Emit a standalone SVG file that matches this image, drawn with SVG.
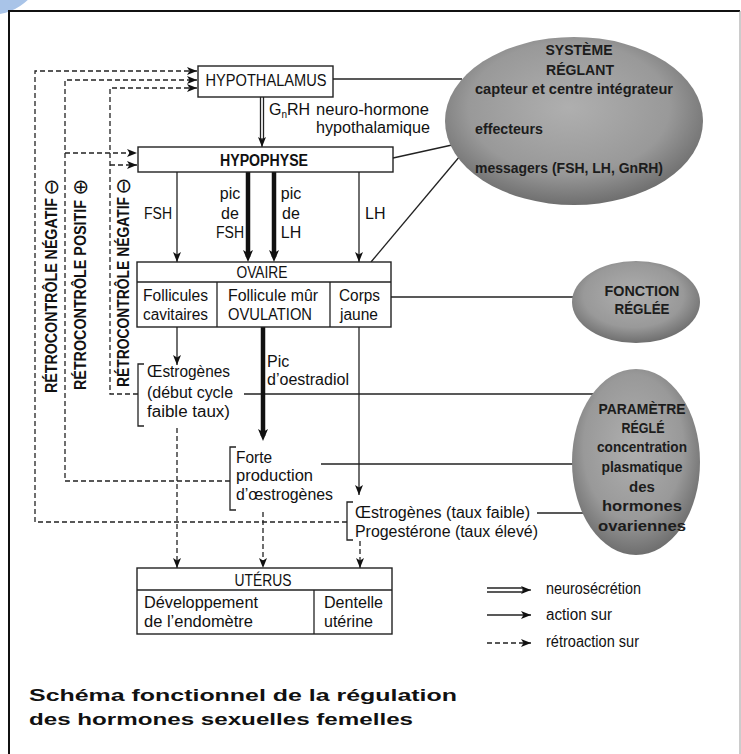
<svg xmlns="http://www.w3.org/2000/svg" width="741" height="754" viewBox="0 0 741 754">
<defs>
<style>
.t{font-family:"Liberation Sans",Arial,sans-serif;font-size:16px;fill:#111}
.b{font-weight:bold}
.e{font-family:"Liberation Sans",Arial,sans-serif;font-size:15px;font-weight:bold;fill:#1c1c1c}
.sym{font-family:"DejaVu Sans",sans-serif;font-size:20px;fill:#111}
.box{fill:#fff;stroke:#222;stroke-width:1.4}
.ln{fill:none;stroke:#222;stroke-width:1.3}
.thk{fill:none;stroke:#111;stroke-width:4.5}
.dsh{fill:none;stroke:#222;stroke-width:1.3;stroke-dasharray:5 3}
.ell{fill:url(#eg);stroke:none}
</style>
<radialGradient id="eg" cx="48%" cy="42%" r="60%">
<stop offset="0" stop-color="#afafaf"/>
<stop offset="0.65" stop-color="#999"/>
<stop offset="1" stop-color="#6a6a6a"/>
</radialGradient>
<marker id="ah" viewBox="0 0 10 8" refX="10" refY="4" markerWidth="10" markerHeight="8" markerUnits="userSpaceOnUse" orient="auto">
<path d="M0,0 L10,4 L0,8 L2.5,4 z" fill="#111"/>
</marker>
<marker id="ahk" viewBox="0 0 12 10" refX="7" refY="5" markerWidth="12" markerHeight="10" markerUnits="userSpaceOnUse" orient="auto">
<path d="M0,0 L12,5 L0,10 L3,5 z" fill="#111"/>
</marker>
</defs>
<rect width="741" height="754" fill="#fff"/>
<circle cx="-10" cy="-40" r="55" fill="#a9c4e8"/>
<path d="M9,754 V11 H740" fill="none" stroke="#111" stroke-width="2"/>
<line x1="740" y1="11" x2="740" y2="754" stroke="#999" stroke-width="1"/>

<g id="connectors">
<line class="ln" x1="333" y1="79" x2="462" y2="79"/>
<line class="ln" x1="393" y1="158" x2="452" y2="145"/>
<line class="ln" x1="371" y1="262" x2="460" y2="156"/>
<line class="ln" x1="391" y1="297" x2="575" y2="297"/>
<line class="ln" x1="244" y1="394" x2="596" y2="394"/>
<line class="ln" x1="321" y1="464" x2="575" y2="464"/>
<line class="ln" x1="537" y1="513" x2="584" y2="513"/>
<line class="ln" x1="260.5" y1="97" x2="260.5" y2="139"/>
<line class="ln" x1="263.5" y1="97" x2="263.5" y2="139"/>
<line class="ln" x1="262" y1="138" x2="262" y2="147" marker-end="url(#ah)"/>
<line class="ln" x1="177" y1="172" x2="177" y2="262" marker-end="url(#ah)"/>
<line class="thk" x1="248" y1="172" x2="248" y2="257" marker-end="url(#ahk)"/>
<line class="thk" x1="274" y1="172" x2="274" y2="257" marker-end="url(#ahk)"/>
<line class="ln" x1="359" y1="172" x2="359" y2="262" marker-end="url(#ah)"/>
<line class="ln" x1="177" y1="327" x2="177" y2="365" marker-end="url(#ah)"/>
<line class="thk" x1="263" y1="327" x2="263" y2="436" marker-end="url(#ahk)"/>
<line class="ln" x1="359" y1="327" x2="359" y2="495" marker-end="url(#ah)"/>
<path class="dsh" d="M347,522 H35 V71 H197" marker-end="url(#ah)"/>
<path class="dsh" d="M230,481 H65 V80 H197" marker-end="url(#ah)"/>
<path class="dsh" d="M65,153 H137" marker-end="url(#ah)"/>
<path class="dsh" d="M138,394 H110 V88 H197" marker-end="url(#ah)"/>
<path class="dsh" d="M110,165 H137" marker-end="url(#ah)"/>
<line class="dsh" x1="177" y1="428" x2="177" y2="568" marker-end="url(#ah)"/>
<line class="dsh" x1="263" y1="512" x2="263" y2="568" marker-end="url(#ah)"/>
<line class="dsh" x1="360" y1="541" x2="360" y2="568" marker-end="url(#ah)"/>
</g>

<g id="hypothalamus">
<rect class="box" x="198" y="66" width="135" height="31"/>
<text class="t" x="266" y="86" text-anchor="middle" textLength="121" lengthAdjust="spacingAndGlyphs">HYPOTHALAMUS</text>
</g>
<g id="gnrh-label">
<text class="t" x="269" y="115">G<tspan font-size="10" dy="3">n</tspan><tspan dy="-3">RH</tspan></text>
<text class="t" x="316" y="115" textLength="113" lengthAdjust="spacingAndGlyphs">neuro-hormone</text>
<text class="t" x="316" y="133" textLength="114" lengthAdjust="spacingAndGlyphs">hypothalamique</text>
</g>
<g id="hypophyse">
<rect class="box" x="138" y="147" width="255" height="25"/>
<text class="t b" x="264" y="166" text-anchor="middle" textLength="88" lengthAdjust="spacingAndGlyphs">HYPOPHYSE</text>
</g>
<g id="hormone-labels">
<text class="t" x="144" y="219" textLength="28" lengthAdjust="spacingAndGlyphs">FSH</text>
<text class="t" x="230" y="199" text-anchor="middle">pic</text>
<text class="t" x="230" y="219" text-anchor="middle">de</text>
<text class="t" x="230" y="238" text-anchor="middle" textLength="28" lengthAdjust="spacingAndGlyphs">FSH</text>
<text class="t" x="291" y="199" text-anchor="middle">pic</text>
<text class="t" x="291" y="219" text-anchor="middle">de</text>
<text class="t" x="291" y="238" text-anchor="middle">LH</text>
<text class="t" x="365" y="219">LH</text>
</g>
<g id="ovaire">
<rect class="box" x="137" y="262" width="254" height="65"/>
<line class="ln" x1="137" y1="282" x2="391" y2="282"/>
<line class="ln" x1="217" y1="282" x2="217" y2="327"/>
<line class="ln" x1="330" y1="282" x2="330" y2="327"/>
<text class="t" x="262" y="278" text-anchor="middle" textLength="51" lengthAdjust="spacingAndGlyphs">OVAIRE</text>
<text class="t" x="143" y="301" textLength="65" lengthAdjust="spacingAndGlyphs">Follicules</text>
<text class="t" x="143" y="320" textLength="65" lengthAdjust="spacingAndGlyphs">cavitaires</text>
<text class="t" x="228" y="301" textLength="90" lengthAdjust="spacingAndGlyphs">Follicule mûr</text>
<text class="t" x="228" y="320" textLength="84" lengthAdjust="spacingAndGlyphs">OVULATION</text>
<text class="t" x="339" y="301" textLength="41" lengthAdjust="spacingAndGlyphs">Corps</text>
<text class="t" x="340" y="320" textLength="38" lengthAdjust="spacingAndGlyphs">jaune</text>
</g>
<g id="oestrogenes-debut">
<path class="ln" d="M144,364 H138 V426 H144"/>
<text class="t" x="147" y="377" textLength="83" lengthAdjust="spacingAndGlyphs">Œstrogènes</text>
<text class="t" x="147" y="398" textLength="86" lengthAdjust="spacingAndGlyphs">(début cycle</text>
<text class="t" x="147" y="417" textLength="83" lengthAdjust="spacingAndGlyphs">faible taux)</text>
</g>
<g id="pic-oestradiol">
<text class="t" x="267" y="367">Pic</text>
<text class="t" x="267" y="385" textLength="82" lengthAdjust="spacingAndGlyphs">d’oestradiol</text>
</g>
<g id="forte-production">
<path class="ln" d="M236,447 H230 V510 H236"/>
<text class="t" x="236" y="463" textLength="36" lengthAdjust="spacingAndGlyphs">Forte</text>
<text class="t" x="236" y="481" textLength="77" lengthAdjust="spacingAndGlyphs">production</text>
<text class="t" x="236" y="500" textLength="97" lengthAdjust="spacingAndGlyphs">d’œstrogènes</text>
</g>
<g id="oestro-progest">
<path class="ln" d="M353,502 H347 V540 H353"/>
<text class="t" x="355" y="518" textLength="175" lengthAdjust="spacingAndGlyphs">Œstrogènes (taux faible)</text>
<text class="t" x="355" y="537" textLength="183" lengthAdjust="spacingAndGlyphs">Progestérone (taux élevé)</text>
</g>
<g id="uterus">
<rect class="box" x="137" y="568" width="255" height="66"/>
<line class="ln" x1="137" y1="590" x2="392" y2="590"/>
<line class="ln" x1="314" y1="590" x2="314" y2="634"/>
<text class="t" x="263" y="586" text-anchor="middle" textLength="57" lengthAdjust="spacingAndGlyphs">UTÉRUS</text>
<text class="t" x="144" y="608" textLength="114" lengthAdjust="spacingAndGlyphs">Développement</text>
<text class="t" x="144" y="627" textLength="109" lengthAdjust="spacingAndGlyphs">de l’endomètre</text>
<text class="t" x="324" y="608" textLength="59" lengthAdjust="spacingAndGlyphs">Dentelle</text>
<text class="t" x="324" y="627" textLength="49" lengthAdjust="spacingAndGlyphs">utérine</text>
</g>
<g id="retro-labels">
<text class="t b" transform="translate(57,393) rotate(-90)" textLength="195" lengthAdjust="spacingAndGlyphs">RÉTROCONTRÔLE NÉGATIF</text>
<text class="sym" transform="translate(58,187) rotate(-90)" text-anchor="middle">⊖</text>
<text class="t b" transform="translate(86,390) rotate(-90)" textLength="190" lengthAdjust="spacingAndGlyphs">RÉTROCONTRÔLE POSITIF</text>
<text class="sym" transform="translate(87,187) rotate(-90)" text-anchor="middle">⊕</text>
<text class="t b" transform="translate(129,387) rotate(-90)" textLength="190" lengthAdjust="spacingAndGlyphs">RÉTROCONTRÔLE NÉGATIF</text>
<text class="sym" transform="translate(130,186) rotate(-90)" text-anchor="middle">⊖</text>
</g>
<g id="systeme-reglant">
<ellipse class="ell" cx="574" cy="121" rx="129" ry="84"/>
<text class="e" x="579" y="55" text-anchor="middle" textLength="67" lengthAdjust="spacingAndGlyphs">SYSTÈME</text>
<text class="e" x="580" y="75" text-anchor="middle" textLength="68" lengthAdjust="spacingAndGlyphs">RÉGLANT</text>
<text class="e" x="475" y="94" textLength="198" lengthAdjust="spacingAndGlyphs">capteur et centre intégrateur</text>
<text class="e" x="475" y="134" textLength="68" lengthAdjust="spacingAndGlyphs">effecteurs</text>
<text class="e" x="475" y="173" textLength="188" lengthAdjust="spacingAndGlyphs">messagers (FSH, LH, GnRH)</text>
</g>
<g id="fonction-reglee">
<ellipse class="ell" cx="636" cy="302" rx="64" ry="41"/>
<text class="e" x="642" y="296" text-anchor="middle" textLength="75" lengthAdjust="spacingAndGlyphs">FONCTION</text>
<text class="e" x="642" y="314" text-anchor="middle" textLength="55" lengthAdjust="spacingAndGlyphs">RÉGLÉE</text>
</g>
<g id="parametre-regle">
<ellipse class="ell" cx="636" cy="462" rx="64" ry="93"/>
<text class="e" x="642" y="414" text-anchor="middle" textLength="87" lengthAdjust="spacingAndGlyphs">PARAMÈTRE</text>
<text class="e" x="643" y="433" text-anchor="middle" textLength="43" lengthAdjust="spacingAndGlyphs">RÉGLÉ</text>
<text class="e" x="642" y="452" text-anchor="middle" textLength="90" lengthAdjust="spacingAndGlyphs">concentration</text>
<text class="e" x="642" y="472" text-anchor="middle" textLength="81" lengthAdjust="spacingAndGlyphs">plasmatique</text>
<text class="e" x="642" y="492" text-anchor="middle">des</text>
<text class="e" x="642" y="511" text-anchor="middle" textLength="80" lengthAdjust="spacingAndGlyphs">hormones</text>
<text class="e" x="642" y="531" text-anchor="middle" textLength="88" lengthAdjust="spacingAndGlyphs">ovariennes</text>
</g>
<g id="legend">
<line class="ln" x1="487" y1="588" x2="524" y2="588"/>
<line class="ln" x1="487" y1="592" x2="524" y2="592"/>
<line class="ln" x1="522" y1="590" x2="531" y2="590" marker-end="url(#ah)"/>
<text class="t" x="546" y="594" font-size="15" textLength="95" lengthAdjust="spacingAndGlyphs">neurosécrétion</text>
<line class="ln" x1="487" y1="615" x2="531" y2="615" marker-end="url(#ah)"/>
<text class="t" x="546" y="620" font-size="15" textLength="66" lengthAdjust="spacingAndGlyphs">action sur</text>
<line class="dsh" x1="487" y1="643" x2="531" y2="643" marker-end="url(#ah)"/>
<text class="t" x="546" y="647" font-size="15" textLength="93" lengthAdjust="spacingAndGlyphs">rétroaction sur</text>
</g>
<g id="title">
<text class="t b" x="29" y="701" font-size="25" textLength="428" lengthAdjust="spacingAndGlyphs">Schéma fonctionnel de la régulation</text>
<text class="t b" x="29" y="725" font-size="25" textLength="384" lengthAdjust="spacingAndGlyphs">des hormones sexuelles femelles</text>
</g>
</svg>
